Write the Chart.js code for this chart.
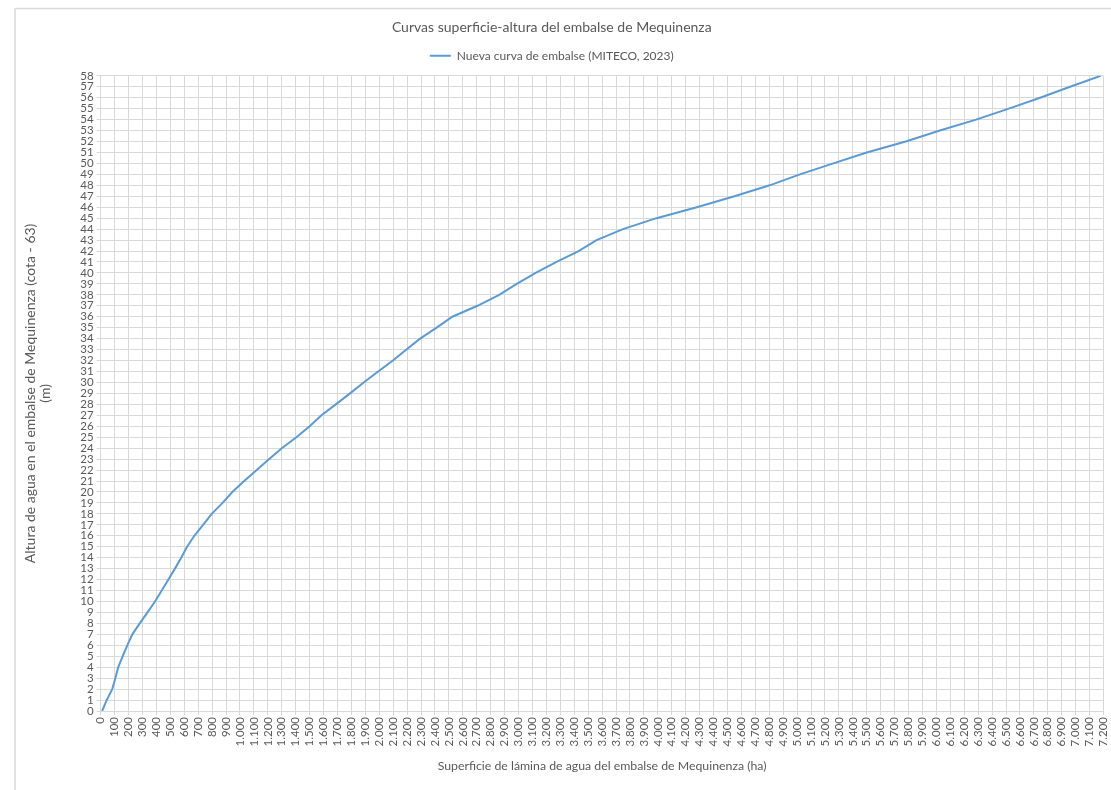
<!DOCTYPE html>
<html lang="es">
<head>
<meta charset="utf-8">
<title>Curvas superficie-altura del embalse de Mequinenza</title>
<script src="https://cdn.jsdelivr.net/npm/chart.js@4/dist/chart.umd.min.js"></script>
<style>
  html, body { margin: 0; padding: 0; background: #ffffff; }
  #wrap { width: 1111px; height: 790px; position: relative; }
</style>
</head>
<body>
<div id="wrap"><canvas id="chart" width="1111" height="790"></canvas></div>
<script>
// Water height above the reservoir bottom (m, cota - 63), one row per metre
const alturas = [
  0, 1, 2, 3, 4, 5, 6, 7, 8, 9,
  10, 11, 12, 13, 14, 15, 16, 17, 18, 19,
  20, 21, 22, 23, 24, 25, 26, 27, 28, 29,
  30, 31, 32, 33, 34, 35, 36, 37, 38, 39,
  40, 41, 42, 43, 44, 45, 46, 47, 48, 49,
  50, 51, 52, 53, 54, 55, 56, 57, 58
];

// Flooded surface (ha) for each height — Nueva curva de embalse (MITECO, 2023)
const superficie = [
  10, 43, 83, 105, 126, 158, 191, 227, 280, 336,
  390, 438, 486, 533, 578, 620, 672, 735, 797, 875,
  945, 1030, 1120, 1210, 1300, 1405, 1500, 1585, 1688, 1790,
  1888, 1992, 2098, 2195, 2293, 2412, 2525, 2705, 2861, 2987,
  3123, 3273, 3431, 3560, 3750, 3990, 4280, 4550, 4803, 5020,
  5260, 5500, 5780, 6025, 6285, 6520, 6745, 6960, 7180
];

const serieNombre = 'Nueva curva de embalse (MITECO, 2023)';
const tituloGrafico = 'Curvas superficie-altura del embalse de Mequinenza';
const tituloEjeX = 'Superficie de lámina de agua del embalse de Mequinenza (ha)';
const tituloEjeY = ['Altura de agua en el embalse de Mequinenza (cota - 63)', '(m)'];

// Axis ranges and tick steps
const ejeX = { min: 0, max: 7200, paso: 100 };
const ejeY = { min: 0, max: 58, paso: 1 };

const GRIS_TEXTO = '#595959';
const GRIS_REJILLA = '#d9d9d9';
const AZUL = '#5B9BD5';
const FUENTE = "Lato, 'Open Sans', sans-serif";

// Spanish thousands separator: 1000 -> 1.000
function formatoMiles(v) {
  return String(Math.round(v)).replace(/\B(?=(\d{3})+(?!\d))/g, '.');
}

const puntos = alturas.map((h, i) => ({ x: superficie[i], y: h }));

// White background plus the thin frame of the chart box
const marcoGrafico = {
  id: 'marcoGrafico',
  beforeDraw(chart) {
    const ctx = chart.ctx;
    ctx.save();
    ctx.fillStyle = '#ffffff';
    ctx.fillRect(0, 0, chart.width, chart.height);
    ctx.strokeStyle = GRIS_REJILLA;
    ctx.lineWidth = 1.5;
    ctx.beginPath();
    ctx.moveTo(15, 8.5);
    ctx.lineTo(15, chart.height);
    ctx.moveTo(15, 8.5);
    ctx.lineTo(chart.width, 8.5);
    ctx.stroke();
    ctx.restore();
  }
};

const grafico = new Chart(document.getElementById('chart'), {
  type: 'scatter',
  data: {
    datasets: [{
      label: serieNombre,
      data: puntos,
      showLine: true,
      borderColor: AZUL,
      backgroundColor: AZUL,
      borderWidth: 2,
      pointRadius: 0,
      pointHoverRadius: 0,
      pointStyle: 'line',
      tension: 0
    }]
  },
  options: {
    responsive: false,
    animation: false,
    layout: { padding: { left: 0, right: 7.5, top: 0, bottom: 0 } },
    plugins: {
      tooltip: { enabled: false },
      title: {
        display: true,
        text: tituloGrafico,
        color: GRIS_TEXTO,
        font: { family: FUENTE, size: 14, weight: 'normal' },
        padding: { top: 19, bottom: 4 }
      },
      legend: {
        display: true,
        position: 'top',
        labels: {
          color: GRIS_TEXTO,
          font: { family: FUENTE, size: 12 },
          usePointStyle: true,
          pointStyle: 'line',
          pointStyleWidth: 21,
          padding: 10
        }
      }
    },
    scales: {
      x: {
        type: 'linear',
        min: ejeX.min,
        max: ejeX.max,
        afterFit(scale) {
          scale.height = 79;
          scale.paddingLeft = 0;
          scale.paddingRight = 0;
        },
        ticks: {
          stepSize: ejeX.paso,
          autoSkip: false,
          minRotation: 90,
          maxRotation: 90,
          color: GRIS_TEXTO,
          font: { family: FUENTE, size: 11.5 },
          padding: 2,
          callback: (v) => formatoMiles(v)
        },
        grid: { color: GRIS_REJILLA, lineWidth: 1, tickLength: 4, drawTicks: true },
        border: { color: GRIS_REJILLA, width: 1 },
        title: {
          display: true,
          text: tituloEjeX,
          color: GRIS_TEXTO,
          font: { family: FUENTE, size: 12.3 },
          padding: { top: 4, bottom: 16.5 }
        }
      },
      y: {
        type: 'linear',
        min: ejeY.min,
        max: ejeY.max,
        afterFit(scale) {
          scale.width = 100.7;
          scale.paddingTop = 0;
          scale.paddingBottom = 0;
        },
        ticks: {
          stepSize: ejeY.paso,
          autoSkip: false,
          color: GRIS_TEXTO,
          font: { family: FUENTE, size: 11.5 },
          padding: 3,
          callback: (v) => formatoMiles(v)
        },
        grid: { color: GRIS_REJILLA, lineWidth: 1, tickLength: 4, drawTicks: true },
        border: { color: GRIS_REJILLA, width: 1 },
        title: {
          display: true,
          text: tituloEjeY,
          color: GRIS_TEXTO,
          font: { family: FUENTE, size: 14, lineHeight: 1.1 },
          padding: { top: 22.3, bottom: 4 }
        }
      }
    }
  },
  plugins: [marcoGrafico]
});

// Leave a little extra room between the legend row and the plot area
const leyenda = grafico.legend;
const ajusteOriginal = leyenda.fit.bind(leyenda);
leyenda.fit = function () {
  ajusteOriginal();
  this.height += 4;
};
grafico.update();
</script>
</body>
</html>
